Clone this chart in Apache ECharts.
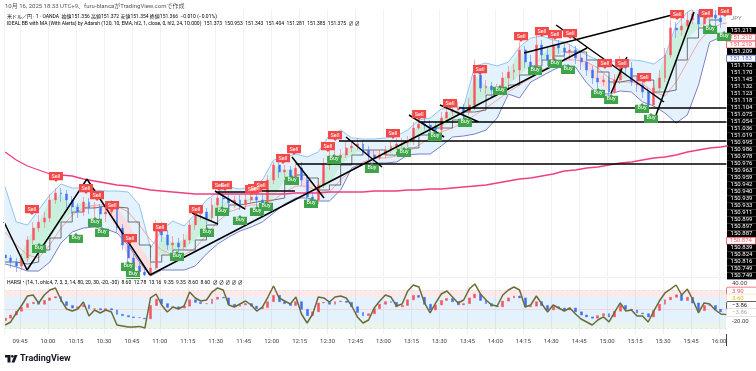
<!DOCTYPE html>
<html>
<head>
<meta charset="utf-8">
<style>html,body{margin:0;padding:0;background:#fff}#chart{width:756px;height:371px}</style>
<script src="https://cdn.jsdelivr.net/npm/echarts@6/dist/echarts.min.js"></script>
</head>
<body>
<div id="chart"></div>
<script>
// USD/JPY 1 min, one candle per 3 minutes. [open, close, low, high]
var candles = [
[150.663,150.654,150.642,150.672],[150.654,150.642,150.624,150.663],[150.642,150.630,150.612,150.654],[150.630,150.654,150.618,150.666],
[150.654,150.708,150.642,150.720],[150.708,150.744,150.696,150.762],[150.744,150.762,150.732,150.783],[150.762,150.774,150.744,150.792],
[150.774,150.828,150.762,150.846],[150.828,150.849,150.816,150.864],[150.849,150.846,150.822,150.864],[150.846,150.828,150.804,150.858],
[150.828,150.807,150.786,150.840],[150.807,150.792,150.774,150.819],[150.792,150.822,150.780,150.837],[150.822,150.804,150.786,150.834],
[150.804,150.807,150.750,150.822],[150.807,150.786,150.768,150.816],[150.786,150.792,150.762,150.810],[150.792,150.804,150.786,150.828],
[150.804,150.744,150.732,150.816],[150.744,150.693,150.678,150.756],[150.693,150.654,150.642,150.708],[150.654,150.630,150.618,150.666],
[150.630,150.612,150.600,150.642],[150.612,150.603,150.600,150.630],[150.603,150.624,150.600,150.654],[150.624,150.744,150.618,150.768],
[150.744,150.723,150.702,150.762],[150.723,150.693,150.678,150.738],[150.693,150.699,150.678,150.720],[150.699,150.687,150.672,150.714],
[150.687,150.708,150.678,150.726],[150.708,150.753,150.696,150.768],[150.753,150.786,150.738,150.804],[150.786,150.792,150.768,150.810],
[150.792,150.774,150.756,150.804],[150.774,150.813,150.762,150.834],[150.813,150.834,150.798,150.852],[150.834,150.831,150.810,150.852],
[150.831,150.819,150.798,150.846],[150.819,150.828,150.804,150.840],[150.828,150.813,150.798,150.843],[150.813,150.828,150.798,150.843],
[150.828,150.837,150.816,150.858],[150.837,150.828,150.810,150.852],[150.828,150.819,150.804,150.846],[150.819,150.888,150.810,150.903],
[150.888,150.933,150.876,150.942],[150.933,150.912,150.894,150.948],[150.912,150.918,150.894,150.933],[150.918,150.894,150.882,150.930],
[150.894,150.924,150.882,150.948],[150.924,150.888,150.870,150.942],[150.888,150.837,150.822,150.900],[150.837,150.828,150.810,150.852],
[150.828,150.873,150.816,150.888],[150.873,150.933,150.864,150.954],[150.933,150.948,150.918,150.978],[150.948,150.954,150.933,150.978],
[150.954,150.963,150.942,150.981],[150.963,150.984,150.954,151.002],[150.984,150.990,150.972,151.008],[150.990,150.996,150.978,151.014],
[150.996,150.978,150.963,151.008],[150.978,150.963,150.948,150.990],[150.963,150.954,150.942,150.978],[150.954,150.963,150.948,150.978],
[150.963,150.978,150.954,150.990],[150.978,150.990,150.969,151.002],[150.990,150.996,150.978,151.014],[150.996,150.999,150.984,151.014],
[150.999,151.005,150.987,151.020],[151.005,151.044,150.993,151.062],[151.044,151.056,151.038,151.074],[151.056,151.053,151.038,151.074],
[151.053,151.047,151.032,151.068],[151.047,151.038,151.023,151.062],[151.038,151.074,151.026,151.092],[151.074,151.092,151.062,151.110],
[151.092,151.098,151.080,151.116],[151.098,151.104,151.086,151.122],[151.104,151.092,151.080,151.116],[151.092,151.113,151.083,151.134],
[151.113,151.203,151.098,151.248],[151.203,151.164,151.152,151.218],[151.164,151.170,151.146,151.188],[151.170,151.158,151.134,151.182],
[151.158,151.164,151.140,151.176],[151.164,151.194,151.152,151.212],[151.194,151.212,151.176,151.230],[151.212,151.218,151.188,151.236],
[151.218,151.278,151.203,151.302],[151.278,151.242,151.224,151.290],[151.242,151.224,151.206,151.263],[151.224,151.293,151.212,151.329],
[151.293,151.263,151.248,151.308],[151.263,151.248,151.230,151.284],[151.248,151.293,151.236,151.314],[151.293,151.284,151.266,151.308],
[151.284,151.272,151.248,151.296],[151.272,151.278,151.248,151.296],[151.278,151.254,151.236,151.290],[151.254,151.242,151.218,151.272],
[151.242,151.218,151.200,151.254],[151.218,151.194,151.176,151.230],[151.194,151.182,151.164,151.212],[151.182,151.188,151.170,151.206],
[151.188,151.152,151.140,151.200],[151.152,151.188,151.146,151.206],[151.188,151.233,151.176,151.260],[151.233,151.224,151.206,151.254],
[151.224,151.182,151.170,151.242],[151.182,151.173,151.152,151.200],[151.173,151.152,151.134,151.188],[151.152,151.113,151.098,151.164],
[151.113,151.164,151.104,151.182],[151.164,151.194,151.152,151.218],[151.194,151.263,151.182,151.284],[151.263,151.344,151.254,151.368],
[151.344,151.338,151.314,151.362],[151.338,151.350,151.320,151.374],[151.350,151.368,151.338,151.392],[151.368,151.386,151.356,151.398],
[151.386,151.356,151.332,151.398],[151.356,151.380,151.338,151.398],[151.380,151.383,151.356,151.398],[151.383,151.374,151.350,151.398],
[151.374,151.362,151.344,151.392]];

// indicator lines, one value per 6 minutes
var bbUpper = [150.867,150.762,150.753,150.798,150.843,150.876,150.864,150.864,150.858,150.855,150.855,150.852,150.813,150.684,150.738,150.765,150.750,150.786,150.828,150.852,150.867,150.861,150.867,150.888,150.948,150.957,150.966,150.957,150.972,151.023,151.038,151.014,151.011,151.011,151.014,151.020,151.038,151.068,151.074,151.101,151.107,151.107,151.230,151.239,151.230,151.242,151.287,151.314,151.320,151.308,151.302,151.284,151.263,151.248,151.242,151.248,151.248,151.245,151.236,151.260,151.353,151.392,151.410,151.416,151.410,151.404];
var bbLower = [150.636,150.627,150.615,150.615,150.642,150.699,150.732,150.744,150.747,150.741,150.729,150.693,150.642,150.600,150.618,150.618,150.618,150.630,150.666,150.696,150.717,150.735,150.747,150.762,150.789,150.816,150.834,150.834,150.825,150.825,150.858,150.924,150.939,150.939,150.939,150.942,150.963,150.966,150.966,150.990,151.017,151.020,151.026,151.038,151.074,151.146,151.134,151.182,151.200,151.218,151.233,151.227,151.179,151.146,151.146,151.155,151.152,151.122,151.110,151.089,151.059,151.083,151.173,151.302,151.317,151.323];
var stepMa = [150.642,150.636,150.642,150.678,150.714,150.762,150.792,150.804,150.810,150.807,150.804,150.762,150.693,150.642,150.663,150.678,150.678,150.708,150.753,150.792,150.813,150.819,150.825,150.828,150.834,150.888,150.903,150.894,150.858,150.873,150.933,150.963,150.978,150.978,150.963,150.972,150.984,151.023,151.044,151.044,151.068,151.092,151.098,151.143,151.158,151.173,151.203,151.230,151.248,151.260,151.272,151.272,151.248,151.212,151.182,151.188,151.200,151.188,151.152,151.158,151.248,151.314,151.344,151.368,151.374];
var slowMa = [150.732,150.693,150.663,150.654,150.693,150.744,150.783,150.804,150.813,150.813,150.810,150.792,150.753,150.708,150.678,150.663,150.663,150.684,150.723,150.762,150.792,150.804,150.813,150.813,150.828,150.852,150.870,150.870,150.852,150.852,150.888,150.918,150.942,150.954,150.954,150.960,150.972,150.993,151.014,151.032,151.044,151.062,151.083,151.104,151.128,151.152,151.173,151.194,151.218,151.233,151.248,151.248,151.242,151.224,151.194,151.182,151.182,151.176,151.152,151.140,151.182,151.242,151.302,151.338,151.356,151.362];
var ema = [150.972,150.948,150.930,150.918,150.906,150.903,150.900,150.891,150.885,150.879,150.873,150.870,150.864,150.858,150.855,150.852,150.849,150.846,150.846,150.846,150.846,150.846,150.846,150.846,150.846,150.846,150.849,150.849,150.849,150.852,150.852,150.852,150.852,150.855,150.855,150.855,150.858,150.858,150.861,150.861,150.864,150.867,150.870,150.873,150.879,150.885,150.891,150.894,150.900,150.906,150.915,150.918,150.924,150.927,150.933,150.939,150.942,150.948,150.954,150.957,150.963,150.972,150.978,150.984,150.987,150.993];

// drawn trend lines, [minute, price] pairs
var trendLines = [
[[576.4,150.762],[588.8,150.618]],[[588.8,150.618],[620.9,150.891]],[[620.9,150.891],[654.7,150.603]],[[654.7,150.603],[889.2,151.284]],
[[855.4,151.269],[934.8,151.383]],[[872.6,151.353],[930.5,151.122]],[[902.1,151.149],[910.6,151.257]],[[926.2,151.083],[946.6,151.392]],
[[820.5,151.104],[964,151.104]],[[799,151.062],[964,151.062]],[[756.1,151.005],[964,151.005]],[[733.1,150.936],[964,150.936]],
[[730.9,150.957],[748.1,150.834]],[[759.9,151.017],[779.2,150.927]],[[714.8,150.855],[732.5,150.855]],[[689.6,150.855],[705.7,150.801]],
[[677.3,150.789],[691.2,150.756]],[[690.7,150.852],[709.5,150.852]],[[793.7,151.083],[812.5,151.017]],[[810.3,151.113],[831.2,151.062]]];

var sellSignals = [[591.4,150.798],[604.3,150.897],[620.4,150.861],[626.3,150.840],[634.4,150.810],[644,150.711],[660.1,150.744],[679.4,150.798],[691.8,150.870],[695,150.870],[709.5,150.858],[711.1,150.861],[714.3,150.870],[726.1,150.951],[732,150.978],[750.2,150.987],[754,151.020],[785.1,151.026],[799.1,151.083],[815.7,151.116],[831.8,151.218],[853.8,151.317],[865,151.332],[872,151.323],[880.1,151.326],[898.8,151.236],[908,151.236],[919.8,151.194],[937.5,151.383],[953,151.386],[963.2,151.392]];
var buySignals = [[595.2,150.684],[642.9,150.630],[645.6,150.606],[669.2,150.660],[615,150.714],[625.2,150.762],[629,150.732],[685.3,150.732],[693.4,150.795],[703,150.768],[712.1,150.795],[717,150.810],[730.9,150.888],[741.1,150.819],[753.5,150.951],[773.8,150.924],[791,150.972],[807.6,151.020],[823.7,151.062],[842.5,151.158],[861.3,151.218],[872,151.239],[879,151.221],[895.1,151.149],[902.1,151.131],[918.7,151.104],[923.5,151.074],[955.2,151.341],[962.7,151.320]];

// HARSI pane, one value per 3 minutes
var harsiLine = [-24.8,-20,-5.8,6.8,21,22.6,10,22.6,30.5,33.7,14.7,0.5,-2.7,0.5,11.5,-10.6,-1.1,-5.8,-1.1,-4.3,-24.8,-26.4,-28,-28,-27,-29.5,17.9,24.2,6.8,-4.3,3.6,0.5,5.2,27.3,17.9,13.1,14.7,27.3,33.7,30.5,6.8,3.6,8.4,13.1,6.8,-2.7,3.6,19.4,36.8,17.9,13.1,8.4,19.4,-7.4,-21.6,-7.4,19.4,17.9,11.5,19.4,21,17.9,5.2,-12,-21.6,-16.9,2.1,13.1,22.6,19.4,5.2,8.4,28.9,38.4,35.2,10,-5.8,10,24.2,28.9,19.4,10,14.7,32,40,24.2,14.7,6.8,5.2,22.6,30.5,35.2,30.5,3.6,6.8,21,8.4,-4.3,6.8,2.1,-2.7,2.1,-7.4,-15.3,-20,-24.8,-16.9,-12,-20,-4.3,10,-2.7,-1.1,-10.6,-10.6,-20,-2.7,13.1,25.8,32,38.4,22.6,32,14.7,-5.8,10,8.4,-1.1,-7.4,-8.4];
var harsiBodies = [[-18,-14],[-14,-9],[-9,-3],[-3,3],[3,9],[9,11],[11,8],[8,14],[14,18],[18,20],[20,12],[12,6],[6,2],[2,4],[4,7],[7,1],[1,1],[1,-1],[-1,1],[1,-1],[-1,-8],[-8,-10],[-10,-12],[-12,-13],[-13,-13],[-14,-15],[-15,6],[6,16],[16,9],[9,3],[3,4],[4,2],[2,5],[5,15],[15,11],[11,9],[9,9],[9,16],[16,19],[19,18],[18,8],[8,5],[5,7],[7,9],[9,5],[5,1],[1,3],[3,12],[12,22],[22,12],[12,9],[9,6],[6,12],[12,0],[0,-10],[-10,-4],[-4,10],[10,11],[11,8],[8,12],[12,13],[13,11],[11,4],[4,-5],[-5,-10],[-10,-7],[-7,1],[1,8],[8,12],[12,11],[11,4],[4,6],[6,15],[15,22],[22,19],[19,8],[8,-1],[-1,7],[7,14],[14,17],[17,12],[12,7],[7,9],[9,18],[18,24],[24,14],[14,9],[9,5],[5,4],[4,13],[13,18],[18,21],[21,18],[18,4],[4,5],[5,12],[12,6],[6,-1],[-1,4],[4,2],[2,-1],[-1,2],[2,-4],[-4,-9],[-9,-12],[-12,-14],[-14,-10],[-10,-7],[-7,-12],[-12,-3],[-3,6],[6,0],[0,-1],[-1,-6],[-6,-7],[-7,-12],[-12,-2],[-2,8],[8,15],[15,19],[19,23],[23,14],[14,19],[19,10],[10,-2],[-2,6],[6,6],[6,0],[0,-4]];

var priceLabels = ['151.211','151.210','151.210','151.209','151.183','151.172','151.170','151.145','151.132','151.123','151.118','151.104','151.075','151.054','151.036','151.019','150.995','150.986','150.978','150.976','150.963','150.959','150.942','150.940','150.939','150.933','150.911','150.899','150.897','150.887','150.874','150.839','150.824','150.816','150.749','150.749'];
var roseLabels = [1, 2, 30];
var blueLabels = [4];
var harsiTicks = [40, -20];
// 09:45 to 16:00, every 15 minutes
var tickMinutes = [585,600,615,630,645,660,675,690,705,720,735,750,765,780,795,810,825,840,855,870,885,900,915,930,945,960];

var bandTimes = [], candleTimes = [], i;
for (i = 0; i < bbUpper.length; i++) bandTimes.push(577 + 6 * i);
for (i = 0; i < harsiLine.length; i++) candleTimes.push(577 + 3 * i);

function zip(times, values) {
    return values.map(function (v, n) { return [times[n], v]; });
}

var font = 'Roboto, "Noto Sans CJK JP", sans-serif';
var signalPaths = {
    sell: 'path://M0,0H16V10H10L8,12L6,10H0Z',
    buy: 'path://M0,2H6L8,0L10,2H16V12H0Z'
};

function signalSeries(name, data, path, color) {
    return {
        name: name, type: 'scatter', data: data, z: 8, symbol: path, symbolSize: [14, 10],
        itemStyle: { color: color, opacity: 1 },
        label: { show: true, position: 'inside', formatter: name, color: '#fff', fontSize: 5.5, fontFamily: font }
    };
}

// the Bollinger fill as one polygon
function bandFill(api) {
    var pts = [], n;
    for (n = 0; n < bbUpper.length; n++) pts.push(api.coord([bandTimes[n], bbUpper[n]]));
    for (n = bbLower.length - 1; n >= 0; n--) pts.push(api.coord([bandTimes[n], bbLower[n]]));
    return { type: 'polygon', shape: { points: pts }, style: { fill: '#e3f2fd' } };
}

// mint or pink wedge between price and the stepped average
function trendFill(params, api) {
    var k = params.dataIndex;
    if (k >= stepMa.length - 1) return null;
    var c0 = candles[k * 2][1], c1 = candles[k * 2 + 2][1];
    var pts = [api.coord([bandTimes[k], c0]), api.coord([bandTimes[k + 1], c1]), api.coord([bandTimes[k + 1], stepMa[k + 1]]), api.coord([bandTimes[k], stepMa[k]])];
    return { type: 'polygon', shape: { points: pts }, style: { fill: c0 + c1 > stepMa[k] + stepMa[k + 1] ? '#c8f0dd' : '#fadde1' } };
}

var trendData = [];
trendLines.forEach(function (seg) { trendData.push(seg[0], seg[1], [null, null]); });

function gridLines(xIndex, yIndex) {
    return {
        name: 'grid ' + xIndex, type: 'line', xAxisIndex: xIndex, yAxisIndex: yIndex, data: [], z: 0, silent: true,
        markLine: {
            silent: true, symbol: 'none', label: { show: false }, z: 0,
            lineStyle: { color: '#eff1f5', type: 'solid', width: 1 },
            data: tickMinutes.map(function (m) { return { xAxis: m }; })
        }
    };
}

var timeAxis = { type: 'value', min: 576.4, max: 963.75, axisTick: { show: false }, splitLine: { show: false } };

function text(x, y, str, size, color, extra) {
    var style = { text: str, x: x, y: y, fontSize: size, fill: color, fontFamily: font, verticalAlign: 'middle' };
    for (var key in extra) style[key] = extra[key];
    return { type: 'text', z: 20, style: style };
}

function tag(y, str, color, border) {
    return { type: 'text', z: 20, style: { text: str, x: 727, y: y, width: 25, fontSize: 6, fill: color, fontFamily: font, verticalAlign: 'middle', align: 'left', backgroundColor: '#fff', borderColor: border, borderWidth: 0.8, padding: [0.5, 0, 0.5, 5], borderRadius: 1 } };
}

var legendRich = {
    g: { fontSize: 5, color: '#666', fontFamily: font },
    r: { fontSize: 5, color: '#f7525f', fontFamily: font },
    b: { fontSize: 5, color: '#2962ff', fontFamily: font },
    n: { fontSize: 5, color: '#3f51b5', fontFamily: font },
    o: { fontSize: 5, color: '#e6b422', fontFamily: font },
    l: { fontSize: 5, color: '#aaa', fontFamily: font }
};

var chart = echarts.init(document.getElementById('chart'), null, { renderer: 'canvas' });
chart.setOption({
    animation: false,
    backgroundColor: '#fff',
    grid: [
        { left: 4, width: 722, top: 10, height: 266 },
        { left: 4, width: 722, top: 278, height: 56 },
        { left: 727, width: 29, top: 27, height: 252.4 }
    ],
    xAxis: [
        Object.assign({}, timeAxis, { gridIndex: 0, axisLabel: { show: false }, axisLine: { show: false } }),
        Object.assign({}, timeAxis, {
            gridIndex: 1,
            axisLine: { show: true, lineStyle: { color: '#b2b5be', width: 1 } },
            axisLabel: {
                show: true, customValues: tickMinutes, fontSize: 6, color: '#444', fontFamily: font, margin: 4,
                formatter: function (v) {
                    var h = Math.floor(v / 60), m = v % 60;
                    return (h < 10 ? '0' : '') + h + ':' + (m < 10 ? '0' : '') + m;
                }
            }
        }),
        { type: 'value', gridIndex: 2, show: false }
    ],
    yAxis: [
        { type: 'value', gridIndex: 0, min: 150.6, max: 151.398, show: false },
        {
            type: 'value', gridIndex: 1, min: -39, max: 49.45, position: 'right', splitLine: { show: false },
            axisLine: { show: false }, axisTick: { show: false },
            axisLabel: { customValues: harsiTicks, fontSize: 6, color: '#444', fontFamily: font, margin: 6, formatter: function (v) { return v.toFixed(2); } }
        },
        {
            type: 'category', gridIndex: 2, data: priceLabels, inverse: true, position: 'left',
            axisLine: { show: false }, axisTick: { show: false },
            axisLabel: {
                inside: true, margin: 0, interval: 0,
                formatter: function (v, n) {
                    if (roseLabels.indexOf(n) >= 0) return '{rose|' + v + '}';
                    if (blueLabels.indexOf(n) >= 0) return '{blue|' + v + '}';
                    return '{dark|' + v + '}';
                },
                rich: {
                    dark: { backgroundColor: '#000', color: '#fff', width: 29, height: 7.01, lineHeight: 7, align: 'center', fontSize: 6, fontFamily: font },
                    rose: { backgroundColor: '#fff', borderColor: '#f7525f', borderWidth: 0.8, color: '#f7525f', width: 28, height: 6, lineHeight: 6, align: 'center', fontSize: 6, fontFamily: font },
                    blue: { backgroundColor: '#fff', borderColor: '#5b6bc0', borderWidth: 0.8, color: '#5b6bc0', width: 28, height: 6, lineHeight: 6, align: 'center', fontSize: 6, fontFamily: font }
                }
            }
        }
    ],
    series: [
        gridLines(0, 0),
        gridLines(1, 1),
        { name: 'band fill', type: 'custom', xAxisIndex: 0, yAxisIndex: 0, z: 1, silent: true, clip: true, data: [[0]], renderItem: function (params, api) { return bandFill(api); } },
        { name: 'trend fill', type: 'custom', xAxisIndex: 0, yAxisIndex: 0, z: 2, silent: true, clip: true, data: bandTimes.map(function (t) { return [t]; }), renderItem: trendFill },
        { name: 'BB upper', type: 'line', data: zip(bandTimes, bbUpper), symbol: 'none', z: 3, lineStyle: { color: '#8fc4f0', width: 1 } },
        { name: 'BB lower', type: 'line', data: zip(bandTimes, bbLower), symbol: 'none', z: 3, lineStyle: { color: '#7e7ec8', width: 1 } },
        { name: 'slow MA', type: 'line', data: zip(bandTimes, slowMa), symbol: 'none', z: 3, lineStyle: { color: '#f4a6a6', width: 1 } },
        { name: 'step MA', type: 'line', step: 'end', data: zip(bandTimes, stepMa), symbol: 'none', z: 4, lineStyle: { color: '#4a5450', width: 0.8 } },
        {
            name: 'price', type: 'candlestick', z: 5, barWidth: 2.4,
            data: candles.map(function (c, n) { return [candleTimes[n], c[0], c[1], c[2], c[3]]; }),
            encode: { x: 0, y: [1, 2, 3, 4] },
            itemStyle: { color: '#f7525f', color0: '#3f6ff0', borderColor: '#f7707b', borderColor0: '#5a84f2', borderWidth: 0.6 }
        },
        { name: 'EMA', type: 'line', data: zip(bandTimes, ema), symbol: 'none', z: 6, lineStyle: { color: '#ee3f80', width: 1.3 } },
        { name: 'trend lines', type: 'line', data: trendData, symbol: 'none', z: 7, connectNulls: false, lineStyle: { color: '#000', width: 1.5 } },
        signalSeries('Sell', sellSignals, signalPaths.sell, '#f44848'),
        signalSeries('Buy', buySignals, signalPaths.buy, '#3fa34a'),
        {
            name: 'HARSI', type: 'line', xAxisIndex: 1, yAxisIndex: 1, symbol: 'none', z: 6,
            data: zip(candleTimes, harsiLine), lineStyle: { color: '#6d6a35', width: 1.5 },
            markArea: {
                silent: true, z: 1,
                data: [
                    [{ yAxis: 30, itemStyle: { color: 'rgba(247,82,95,0.13)' } }, { yAxis: 20 }],
                    [{ yAxis: 20, itemStyle: { color: 'rgba(33,150,243,0.12)' } }, { yAxis: -20 }],
                    [{ yAxis: -20, itemStyle: { color: 'rgba(76,175,80,0.12)' } }, { yAxis: -30 }]
                ]
            },
            markLine: {
                silent: true, symbol: 'none', label: { show: false },
                data: [
                    { yAxis: 30, lineStyle: { color: '#dddddd', type: 'dashed', width: 0.8 } },
                    { yAxis: 0, lineStyle: { color: '#f5d5d5', type: 'solid', width: 1 } },
                    { yAxis: -30, lineStyle: { color: '#dddddd', type: 'dashed', width: 0.8 } }
                ]
            }
        },
        {
            name: 'HARSI candles', type: 'candlestick', xAxisIndex: 1, yAxisIndex: 1, z: 5, barWidth: 2.4,
            data: harsiBodies.map(function (b, n) { return [candleTimes[n], b[0], b[1], Math.min(b[0], b[1]), Math.max(b[0], b[1])]; }),
            encode: { x: 0, y: [1, 2, 3, 4] },
            itemStyle: { color: '#f7525f', color0: '#3f6ff0', borderColor: '#f7525f', borderColor0: '#3f6ff0', borderWidth: 0.5 }
        }
    ],
    graphic: [
        { type: 'line', z: 19, shape: { x1: 4.5, y1: 10, x2: 4.5, y2: 334 }, style: { stroke: '#eff1f5', lineWidth: 1 } },
        { type: 'line', z: 19, shape: { x1: 4, y1: 277.5, x2: 726, y2: 277.5 }, style: { stroke: '#eff1f5', lineWidth: 1 } },
        { type: 'line', z: 19, shape: { x1: 726.5, y1: 334, x2: 726.5, y2: 346 }, style: { stroke: '#444', lineWidth: 1 } },
        text(5, 6, '10月 16, 2025 18:33 UTC+9、furu-blancaがTradingView.comで作成', 6, '#555'),
        { type: 'text', z: 20, style: { x: 7, y: 17, verticalAlign: 'middle', rich: legendRich,
            text: '{g|米ドル／円 · 1 · OANDA  始値}{r|151.356}{g| 高値}{r|151.372}{g| 安値}{r|151.354}{g| 終値}{r|151.366  −0.010 (−0.01%)}' } },
        { type: 'text', z: 20, style: { x: 7, y: 24, verticalAlign: 'middle', rich: legendRich,
            text: '{g|IDEAL BB with MA (With Alerts) by Adarsh (120, 10, EMA, hl2, 1, close, 0, hl2, 24, 10.000)  151.373  }{r|150.953  151.343  }{b|151.404  }{n|151.281  }{r|151.385  151.375  }{g|∅ ∅}' } },
        { type: 'text', z: 20, style: { x: 7, y: 283, verticalAlign: 'middle', rich: legendRich,
            text: '{g|HARSI • (14, 1, ohlc4, 7, 3, 3, 14, 80, 20, 30, -20, -30)  }{l|8.60  }{b|12.78  13.16  9.35  9.35  }{g|8.60  }{o|8.60  }{g|∅ ∅ ∅ ∅ ∅}' } },
        text(731, 18, 'JPY', 6, '#888'),
        tag(291, '3.90', '#f7525f', '#f7525f'),
        tag(298, '3.60', '#e6b422', '#f5deb0'),
        tag(305.5, '−3.86', '#222', '#333'),
        tag(312.5, '−3.86', '#aaa', '#ddd'),
        { type: 'polygon', z: 20, shape: { points: [[5, 355], [10.5, 355], [10.5, 362.5], [7.5, 362.5], [7.5, 357.5], [5, 357.5]] }, style: { fill: '#131722' } },
        { type: 'circle', z: 20, shape: { cx: 12.3, cy: 356.3, r: 1.3 }, style: { fill: '#131722' } },
        { type: 'polygon', z: 20, shape: { points: [[14.5, 355], [17.5, 355], [14.5, 362.5], [11.5, 362.5]] }, style: { fill: '#131722' } },
        text(20, 359, 'TradingView', 9, '#131722', { fontWeight: 'bold' })
    ]
});
</script>
</body>
</html>
